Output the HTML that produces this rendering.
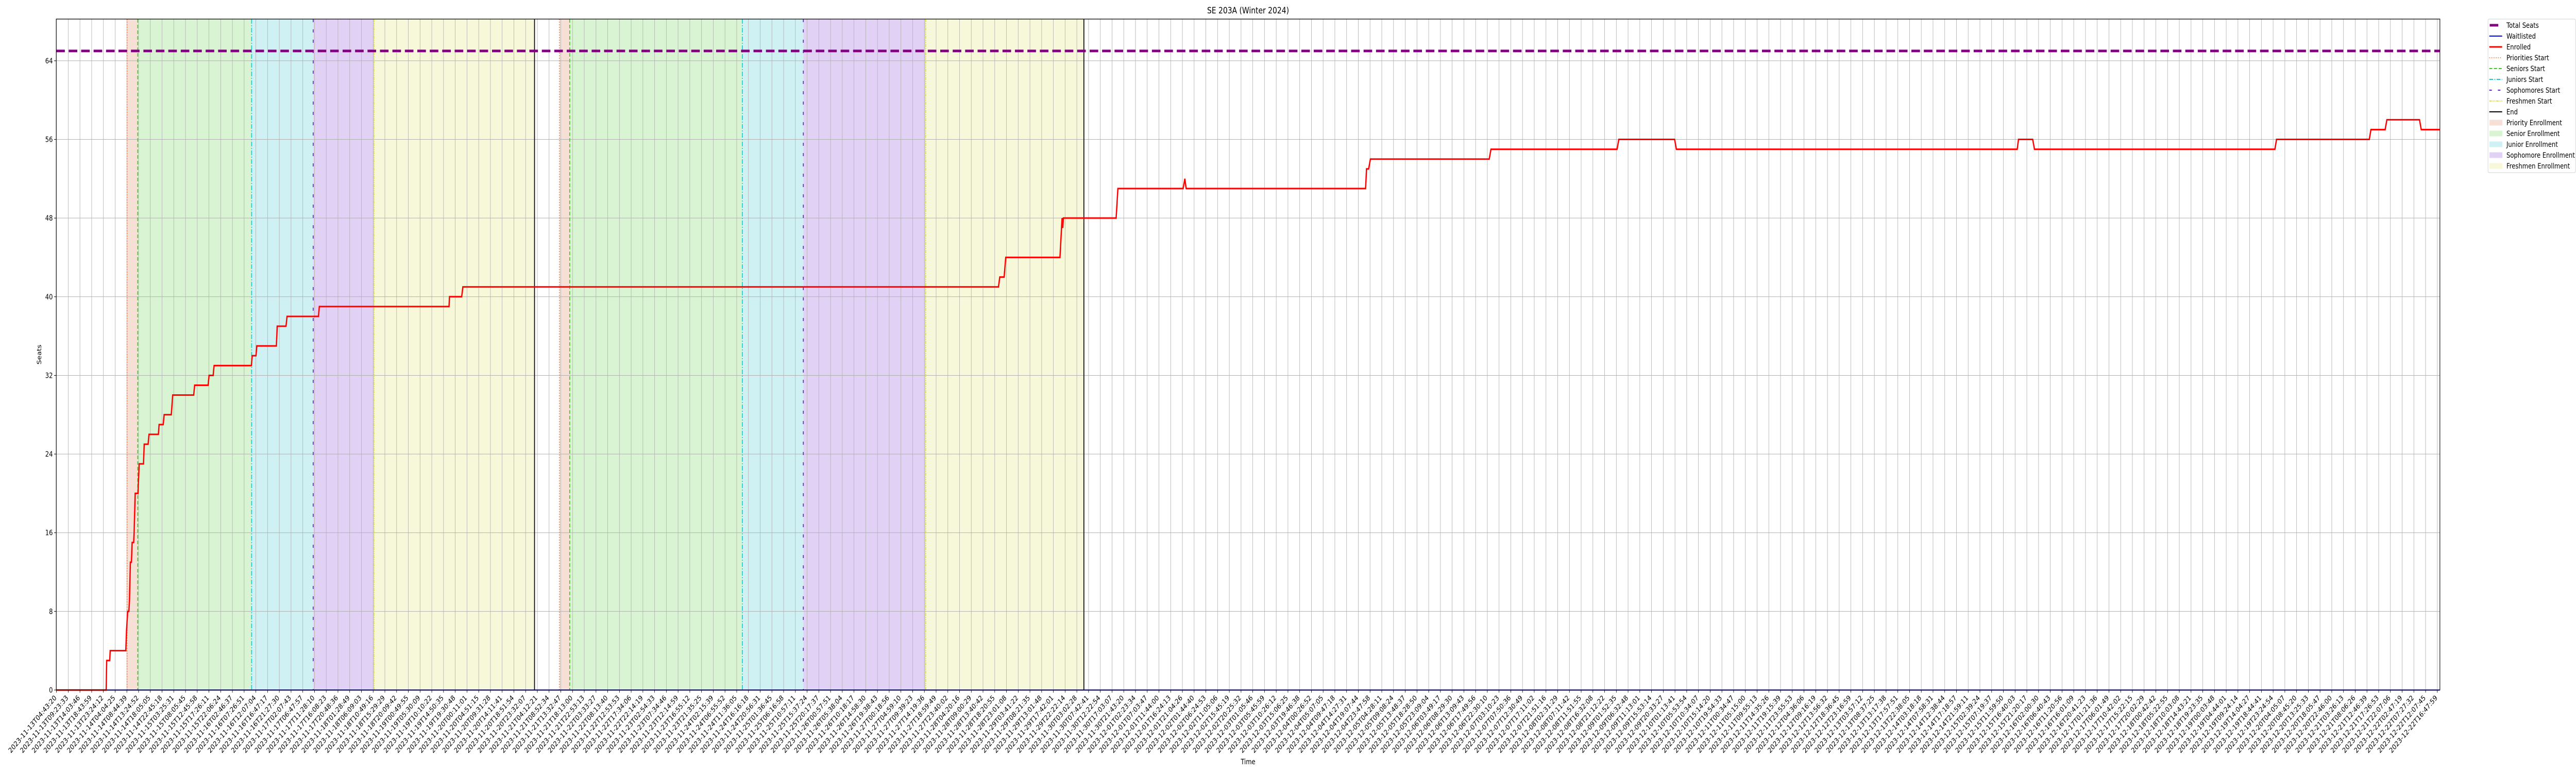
<!DOCTYPE html>
<html><head><meta charset="utf-8"><title>SE 203A (Winter 2024)</title>
<style>
html,body{margin:0;padding:0;background:#fff;width:100%;height:100%;overflow:hidden;}
svg{display:block;overflow:hidden;width:100vw;height:100vh;font-family:"DejaVu Sans","Liberation Sans",sans-serif;}
</style></head>
<body>
<svg id="chart" xmlns="http://www.w3.org/2000/svg" viewBox="0 0 6000 1500" preserveAspectRatio="none" overflow="hidden">
  <defs><clipPath id="pageclip"><rect x="0" y="0" width="6000" height="1500"/></clipPath></defs>
  <g clip-path="url(#pageclip)">
  <rect x="0" y="0" width="6000" height="1500" fill="#fff"/>
  <g id="bands"></g>
  <g id="grid"></g>
  <g id="vlines"></g>
  <g id="series"></g>
  <g id="axes"></g>
  <text x="2907" y="26" font-size="16.7" text-anchor="middle">SE 203A (Winter 2024)</text>
  <text x="2907" y="1483" font-size="13.9" text-anchor="middle">Time</text>
  <text x="0" y="0" font-size="13.9" text-anchor="middle" transform="translate(96,688) rotate(-90)">Seats</text>
  <g id="legend"></g>
  </g>
</svg>
<script>
// ---- data ----
const tickStart = "2023-11-13T04:43:20";
const tickEnd = "2023-12-22T16:47:59";
const tickCount = 204;
const yTicks = [0, 8, 16, 24, 32, 40, 48, 56, 64];
const totalSeats = 65;
const waitlisted = [0, 0];
const waitlistedIdx = [-0.02, 203.2];
const enrolledIdx = [-0.02,4.24,4.28,4.54,4.58,5.91,5.97,6.07,6.17,6.22,6.30,6.39,6.45,6.58,6.62,6.71,6.95,7.05,7.42,7.48,7.81,7.89,8.69,8.75,9.10,9.18,9.79,9.91,11.70,11.78,12.93,13.01,13.36,13.44,16.62,16.69,17.01,17.08,18.75,18.82,19.57,19.66,22.34,22.41,33.47,33.51,34.55,34.65,80.32,80.43,80.80,80.94,85.56,85.74,85.80,85.85,90.35,90.50,96.06,96.21,96.32,111.62,111.70,111.88,112.03,122.16,122.31,133.06,133.21,137.97,138.12,167.18,167.29,168.50,168.65,189.15,189.29,197.20,197.34,198.55,198.70,201.48,201.63,203.2];
const enrolledVals = [0,0,3,3,4,4,6,8,8,9,13,13,15,15,16,20,20,23,23,25,25,26,26,27,27,28,28,30,30,31,31,32,32,33,33,34,34,35,35,37,37,38,38,39,39,40,40,41,41,42,42,44,44,48,47,48,48,51,51,52,51,51,53,53,54,54,55,55,56,56,55,55,56,56,55,55,56,56,57,57,58,58,57,57];
const priorityStarts = [6.02, 42.88];
const seniorStarts = [6.93, 43.76];
const juniorStarts = [16.64, 58.48];
const sophomoreStarts = [21.89, 63.68];
const freshmenStarts = [27.08, 74.11];
const endTimes = [40.76, 87.60];

// ---- layout ----
const L = 131, R = 5683, T = 37, B = 1339;
const xMin = -0.02, xMax = 203.22, yMin = 0, yMax = 68.24;
const NS = "http://www.w3.org/2000/svg";
function xs(i) { return L + (i - xMin) / (xMax - xMin) * (R - L); }
function ys(v) { return B - (v - yMin) / (yMax - yMin) * (B - T); }
function mk(tag, attrs, parent) {
  const e = document.createElementNS(NS, tag);
  for (const k in attrs) e.setAttribute(k, attrs[k]);
  parent.appendChild(e);
  return e;
}
function pad(n) { return String(n).padStart(2, "0"); }
const tickLabels = [];
(function () {
  const s = Date.parse(tickStart + "Z"), e = Date.parse(tickEnd + "Z");
  for (let k = 0; k < tickCount; k++) {
    const d = new Date(s + (e - s) * k / (tickCount - 1));
    tickLabels.push(d.getUTCFullYear() + "-" + pad(d.getUTCMonth() + 1) + "-" + pad(d.getUTCDate()) + "T" + pad(d.getUTCHours()) + ":" + pad(d.getUTCMinutes()) + ":" + pad(d.getUTCSeconds()));
  }
})();

const bands = document.getElementById("bands");
const grid = document.getElementById("grid");
const vlines = document.getElementById("vlines");
const series = document.getElementById("series");
const axes = document.getElementById("axes");
const legend = document.getElementById("legend");

// bands
const bandDefs = [
  [priorityStarts, seniorStarts, "#f6dfd4", "priority-enrollment-band"],
  [seniorStarts, juniorStarts, "#d9f4d2", "senior-enrollment-band"],
  [juniorStarts, sophomoreStarts, "#cff1f3", "junior-enrollment-band"],
  [sophomoreStarts, freshmenStarts, "#e1d2f5", "sophomore-enrollment-band"],
  [freshmenStarts, endTimes, "#f7f8d9", "freshmen-enrollment-band"]
];
bandDefs.forEach(function (bd) {
  for (let c = 0; c < bd[0].length; c++) {
    const x0 = xs(bd[0][c]), x1 = xs(bd[1][c]);
    const r = mk("rect", {x: x0, y: T, width: x1 - x0, height: B - T, fill: bd[2]}, bands);
    
    
  }
});

// grid
for (let k = 0; k < tickCount; k++) {
  const x = xs(k);
  const g = mk("line", {x1: x, x2: x, y1: T, y2: B, stroke: "#b0b0b0", "stroke-width": 1}, grid);
  
  
}
yTicks.forEach(function (v) {
  const y = ys(v);
  const g = mk("line", {x1: L, x2: R, y1: y, y2: y, stroke: "#b0b0b0", "stroke-width": 1}, grid);
  
  
});

// vertical lines
const vDefs = [
  [priorityStarts, "#e8703a", "2,3", 1.5, "priorities-start-line"],
  [seniorStarts, "#3ccc1e", "7,4", 2, "seniors-start-line"],
  [juniorStarts, "#1fc8d0", "9,3,2,3", 2, "juniors-start-line"],
  [sophomoreStarts, "#6622cc", "6,14", 2, "sophomores-start-line"],
  [freshmenStarts, "#e0e040", "6,2,2,2,2,2", 2, "freshmen-start-line"],
  [endTimes, "#000", "none", 2, "end-line"]
];
vDefs.forEach(function (vd) {
  vd[0].forEach(function (t) {
    const x = xs(t);
    const l = mk("line", {x1: x, x2: x, y1: T, y2: B, stroke: vd[1], "stroke-width": vd[3], "stroke-dasharray": vd[2]}, vlines);
    
    
  });
});

// total seats
const ts = mk("line", {x1: L, x2: R, y1: ys(totalSeats), y2: ys(totalSeats), stroke: "#800080", "stroke-width": 5, "stroke-dasharray": "20,9"}, series);



// waitlisted
let wp = waitlistedIdx.map(function (t, i) { return xs(t) + "," + ys(waitlisted[i]); }).join(" ");
const wl = mk("polyline", {points: wp, fill: "none", stroke: "#0000ff", "stroke-width": 2}, series);



// enrolled
let ep = enrolledIdx.map(function (t, i) { return xs(t).toFixed(2) + "," + ys(enrolledVals[i]).toFixed(2); }).join(" ");
const el = mk("polyline", {points: ep, fill: "none", stroke: "#ff0000", "stroke-width": 3, "stroke-linejoin": "miter"}, series);



// axes frame
const frame = mk("rect", {x: L, y: T, width: R - L, height: B - T, fill: "none", stroke: "#000", "stroke-width": 1.3}, axes);



// x ticks & labels
for (let k = 0; k < tickCount; k++) {
  const x = xs(k);
  const tk = mk("line", {x1: x, x2: x, y1: B, y2: B + 5, stroke: "#000", "stroke-width": 1}, axes);
  
  
  const tx = mk("text", {x: 0, y: 0, "font-size": 13.9, "text-anchor": "end", transform: "translate(" + (x + 1) + "," + (B + 16) + ") rotate(-45)"}, axes);
  tx.textContent = tickLabels[k];
  
  
}
// y ticks
yTicks.forEach(function (v) {
  const y = ys(v);
  const tk = mk("line", {x1: L - 5, x2: L, y1: y, y2: y, stroke: "#000", "stroke-width": 1}, axes);
  
  
  const tx = mk("text", {x: L - 8, y: y + 5, "font-size": 13.9, "text-anchor": "end"}, axes);
  tx.textContent = String(v);
  
  
});

// legend
const lb = mk("rect", {x: 5795, y: 37, width: 204, height: 298, rx: 3, fill: "#fff", "fill-opacity": 0.8, stroke: "#d0d0d0", "stroke-width": 1}, legend);


const legItems = [
  ["Total Seats", "line", "#800080", 5, "none"],
  ["Waitlisted", "line", "#0000ff", 2, "none"],
  ["Enrolled", "line", "#ff0000", 3, "none"],
  ["Priorities Start", "line", "#e8703a", 1.5, "2,3"],
  ["Seniors Start", "line", "#3ccc1e", 2, "7,4"],
  ["Juniors Start", "line", "#1fc8d0", 2, "9,3,2,3"],
  ["Sophomores Start", "line", "#6622cc", 2, "6,14"],
  ["Freshmen Start", "line", "#e0e040", 2, "6,2,2,2,2,2"],
  ["End", "line", "#000", 2, "none"],
  ["Priority Enrollment", "patch", "#f6dfd4"],
  ["Senior Enrollment", "patch", "#d9f4d2"],
  ["Junior Enrollment", "patch", "#cff1f3"],
  ["Sophomore Enrollment", "patch", "#e1d2f5"],
  ["Freshmen Enrollment", "patch", "#f7f8d9"]
];
legItems.forEach(function (it, i) {
  const cy = 49 + i * 21;
  const g = mk("g", {}, legend);
  
  
  if (it[1] === "line") {
    const x1 = i === 0 ? 5799 : 5798;
    const x2 = i === 0 ? 5819 : 5828;
    mk("line", {x1: x1, x2: x2, y1: cy, y2: cy, stroke: it[2], "stroke-width": it[3], "stroke-dasharray": it[4]}, g);
  } else {
    mk("rect", {x: 5799, y: cy - 5, width: 29, height: 10, fill: it[2], stroke: it[2]}, g);
  }
  const t = mk("text", {x: 5838, y: cy + 5, "font-size": 13.9}, g);
  t.textContent = it[0];
});
</script>
</body></html>
